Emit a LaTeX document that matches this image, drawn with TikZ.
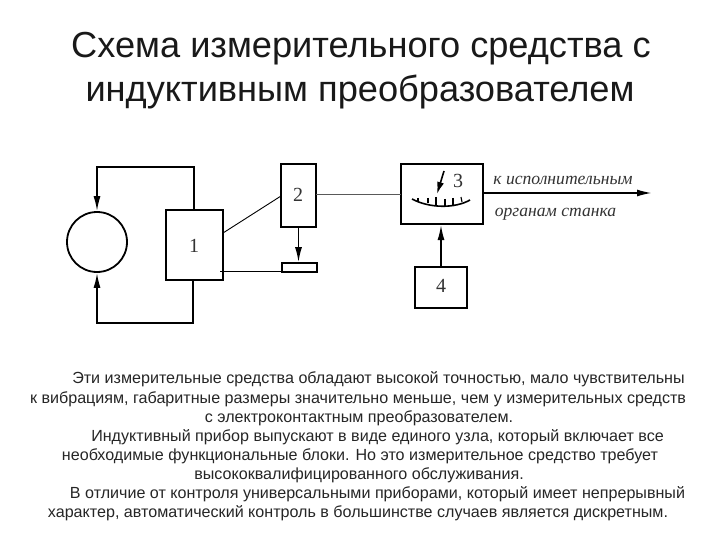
\documentclass[tikz,border=0pt]{standalone}
\usepackage{fontspec}
\usetikzlibrary{arrows.meta}
\setmainfont{Liberation Sans}
\newfontfamily\ital{Liberation Serif}[ItalicFont=Liberation Serif Italic]
\begin{document}
\begin{tikzpicture}[x=1pt,y=-1pt,
  ttl/.style={font=\fontsize{36.2}{36}\selectfont,inner sep=0pt,anchor=base,text=black!90},
  body/.style={font=\fontsize{16.1}{16}\selectfont,inner sep=0pt,anchor=base,text=black!85},
  lab/.style={font=\fontsize{20}{20}\selectfont\ital,inner sep=0pt,text=black!80},
  itl/.style={font=\fontsize{17.6}{18}\ital\itshape\selectfont,inner sep=0pt,anchor=base,text=black!80},
  blk/.style={draw,line width=1.6pt,inner sep=0pt},
  wire/.style={line width=0.9pt},
  thk/.style={line width=1.6pt},
  tip/.style={-{Latex[length=15pt,width=7pt]}}]
\useasboundingbox (0,0) rectangle (720,540);
\fill[white] (0,0) rectangle (720,540);
\node[ttl] (t1) at (361,58) {Схема измерительного средства с};
\node[ttl] (t2) at (360,102) {индуктивным преобразователем};
% blocks
\node[blk,minimum width=57pt,minimum height=70pt] (b1) at (194.5,245) {};
\node[lab] (n1) at (194,246) {1};
\node[blk,minimum width=35pt,minimum height=63pt] (b2) at (298.5,195.5) {};
\node[lab] (n2) at (298,195) {2};
\node[blk,minimum width=35pt,minimum height=9pt] (r) at (299.5,267.5) {};
\node[blk,line width=2pt,minimum width=82pt,minimum height=60pt] (b3) at (442,194) {};
\node[lab] (n3) at (458,181) {3};
\node[blk,minimum width=52pt,minimum height=41pt] (b4) at (441,287.5) {};
\node[lab] (n4) at (441,286) {4};
\node[draw,circle,line width=1.8pt,minimum size=60pt,inner sep=0pt] (c) at (97,242) {};
% coordinates
\coordinate (tl) at (97,167);
\coordinate (tr) at (194,167);
\coordinate (bl) at (97,323);
\coordinate (br) at (193,323);
\coordinate (b1a) at (223,233);
\coordinate (b2a) at (281,196);
\coordinate (b1b) at (220,271.5);
\coordinate (rb) at (282,271.5);
\coordinate (b2c) at (316,194.5);
\coordinate (b3c) at (401,194.5);
\coordinate (outa) at (483,193);
\coordinate (outb) at (652,193);
% connectors
\draw[thk,tip] (b1.north -| tr) -- (tr) -- (tl) -- (c.north);
\draw[thk,tip] (b1.south -| br) -- (br) -- (bl) -- (c.south);
\draw[wire] (b1a) -- (b2a);
\draw[wire] (b1b) -- (rb);
\draw[thk,tip] (b2.south) -- (b2.south |- r.north);
\draw[wire,black!65] (b2c) -- (b3c);
\draw[thk,tip] (b4.north) -- (b4.north |- b3.south);
\draw[line width=1.8pt,tip] (outa) -- (outb);
% gauge
\draw[line width=1.6pt] (412,199) .. controls (430,208.5) and (455,208.5) .. (470,200);
\foreach \xa/\ya/\xb/\yb in {418/198/418/202, 428/198/428/203, 436/197/436/205, 445/199/445/206, 453/198/453/205, 461/197/462/202}
  \draw[line width=1.1pt] (\xa,\ya) -- (\xb,\yb);
\coordinate (ga) at (444,171);
\coordinate (gb) at (437,194);
\draw[line width=1.6pt,-{Latex[length=12pt,width=7pt]}] (ga) -- (gb);
\node[itl] (k) at (563,185) {к исполнительным};
\node[itl] (o) at (555.5,217) {органам станка};
% text
\node[body] (l1) at (378.5,383) {Эти измерительные средства обладают высокой точностью, мало чувствительны};
\node[body] (l2) at (358,403) {к вибрациям, габаритные размеры значительно меньше, чем у измерительных средств};
\node[body] (l3) at (359,422) {с электроконтактным преобразователем.};
\node[body] (l4) at (377.5,441) {Индуктивный прибор выпускают в виде единого узла, который включает все};
\node[body] (l5) at (360,460) {необходимые функциональные блоки. Но это измерительное средство требует};
\node[body] (l6) at (359,479) {высококвалифицированного обслуживания.};
\node[body] (l7) at (377.5,498) {В отличие от контроля универсальными приборами, который имеет непрерывный};
\node[body] (l8) at (358,517) {характер, автоматический контроль в большинстве случаев является дискретным.};
\end{tikzpicture}
\end{document}
